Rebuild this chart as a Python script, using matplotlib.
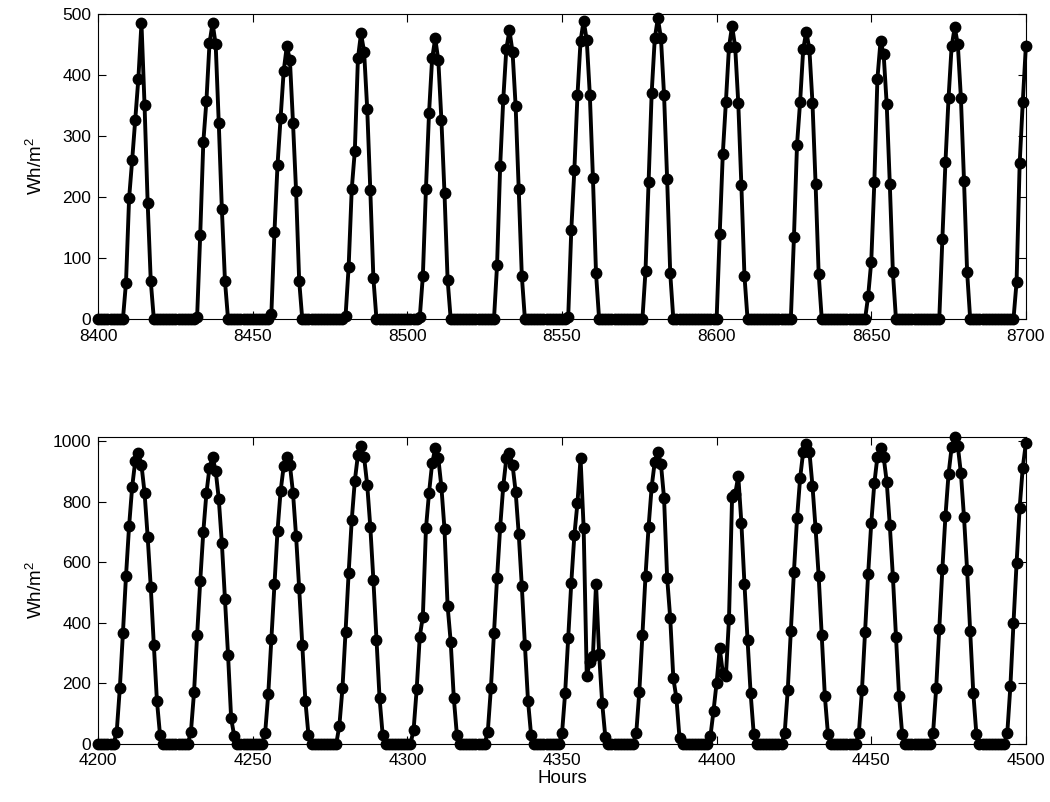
import numpy as np
import matplotlib
matplotlib.use("Agg")
import matplotlib.pyplot as plt

plt.rcParams['font.family'] = ['Liberation Sans', 'DejaVu Sans']
plt.rcParams['mathtext.default'] = 'regular'

# Heures (axe x) des deux périodes
hours_top = np.arange(8400, 8701)
hours_bottom = np.arange(4200, 4501)

# Rayonnement horaire, période d'hiver (Wh/m2), une ligne par jour
values_top = [
    0, 0, 0, 0, 0, 0, 0, 0, 0, 60, 198, 261, 327, 394, 485, 350, 191, 63, 0, 0, 0, 0, 0, 0,
    0, 0, 0, 0, 0, 0, 0, 0, 4, 138, 290, 357, 452, 485, 450, 321, 180, 63, 0, 0, 0, 0, 0, 0,
    0, 0, 0, 0, 0, 0, 0, 0, 8, 142, 253, 329, 407, 447, 425, 322, 210, 63, 0, 0, 0, 0, 0, 0,
    0, 0, 0, 0, 0, 0, 0, 0, 5, 86, 213, 276, 427, 468, 438, 345, 212, 67, 0, 0, 0, 0, 0, 0,
    0, 0, 0, 0, 0, 0, 0, 0, 3, 71, 214, 338, 427, 460, 424, 326, 206, 65, 0, 0, 0, 0, 0, 0,
    0, 0, 0, 0, 0, 0, 0, 0, 0, 89, 251, 360, 443, 473, 438, 349, 213, 71, 0, 0, 0, 0, 0, 0,
    0, 0, 0, 0, 0, 0, 0, 0, 3, 146, 245, 367, 456, 489, 457, 367, 231, 75, 0, 0, 0, 0, 0, 0,
    0, 0, 0, 0, 0, 0, 0, 0, 0, 79, 224, 371, 460, 493, 460, 367, 229, 75, 0, 0, 0, 0, 0, 0,
    0, 0, 0, 0, 0, 0, 0, 0, 0, 140, 271, 356, 446, 480, 446, 354, 220, 71, 0, 0, 0, 0, 0, 0,
    0, 0, 0, 0, 0, 0, 0, 0, 0, 134, 286, 356, 442, 471, 442, 354, 222, 74, 0, 0, 0, 0, 0, 0,
    0, 0, 0, 0, 0, 0, 0, 0, 0, 38, 94, 224, 394, 455, 435, 352, 222, 77, 0, 0, 0, 0, 0, 0,
    0, 0, 0, 0, 0, 0, 0, 0, 0, 131, 257, 362, 447, 478, 450, 362, 227, 78, 0, 0, 0, 0, 0, 0,
    0, 0, 0, 0, 0, 0, 0, 0, 0, 61, 255, 355, 447,
]

# Rayonnement horaire, période d'été (Wh/m2)
values_bottom = [
    0, 0, 0, 0, 0, 0, 40, 183, 365, 554, 719, 849, 935, 959, 921, 829, 684, 519, 326, 142, 29, 0, 0, 0,
    0, 0, 0, 0, 0, 0, 40, 170, 359, 537, 700, 827, 912, 946, 902, 808, 662, 477, 293, 84, 25, 0, 0, 0,
    0, 0, 0, 0, 0, 0, 36, 164, 345, 528, 704, 835, 917, 946, 921, 829, 686, 513, 326, 142, 29, 0, 0, 0,
    0, 0, 0, 0, 0, 0, 60, 183, 370, 565, 739, 869, 954, 983, 946, 855, 717, 541, 343, 150, 29, 0, 0, 0,
    0, 0, 0, 0, 0, 0, 45, 180, 354, 420, 711, 829, 926, 976, 943, 847, 708, 455, 337, 152, 29, 0, 0, 0,
    0, 0, 0, 0, 0, 0, 40, 183, 365, 548, 715, 851, 943, 961, 921, 833, 693, 521, 326, 142, 29, 0, 0, 0,
    0, 0, 0, 0, 0, 0, 34, 166, 348, 532, 689, 796, 943, 711, 224, 270, 290, 528, 296, 133, 23, 0, 0, 0,
    0, 0, 0, 0, 0, 0, 34, 172, 359, 554, 717, 849, 932, 965, 923, 811, 548, 414, 216, 150, 18, 0, 0, 0,
    0, 0, 0, 0, 0, 0, 25, 109, 202, 315, 235, 224, 413, 815, 825, 884, 730, 528, 343, 166, 32, 0, 0, 0,
    0, 0, 0, 0, 0, 0, 34, 177, 373, 568, 744, 877, 965, 990, 965, 851, 711, 554, 359, 157, 32, 0, 0, 0,
    0, 0, 0, 0, 0, 0, 36, 177, 370, 561, 728, 860, 948, 976, 948, 866, 722, 552, 354, 157, 32, 0, 0, 0,
    0, 0, 0, 0, 0, 0, 36, 183, 378, 576, 752, 891, 979, 1012, 983, 893, 748, 574, 373, 168, 32, 0, 0, 0,
    0, 0, 0, 0, 0, 0, 36, 190, 398, 596, 780, 912, 992,
]

fig = plt.figure(figsize=(10.5, 8.02), dpi=100)
ax1 = fig.add_axes([0.0935, 0.602, 0.8835, 0.3807])
ax2 = fig.add_axes([0.0935, 0.0727, 0.8835, 0.382])


def trace(ax, x, y, ymax, yticks, xticks):
    ax.plot(x, y, color='black', linewidth=2.8, marker='o', markersize=7.5,
            clip_on=False, zorder=3)
    ax.set_xlim(x[0], x[-1])
    ax.set_ylim(0, ymax)
    ax.set_xticks(xticks)
    ax.set_yticks(yticks)
    ax.tick_params(direction='in', top=True, right=True, length=6,
                   labelsize=12.5, width=0.8)
    ax.tick_params(axis='x', pad=7)
    ax.tick_params(axis='y', pad=5)
    ax.set_ylabel('Wh/m$^2$', fontsize=13.5)
    ax.yaxis.set_label_coords(-0.056, 0.5)
    for s in ax.spines.values():
        s.set_linewidth(0.8)


trace(ax1, hours_top, values_top, 500, [0, 100, 200, 300, 400, 500],
      [8400, 8450, 8500, 8550, 8600, 8650, 8700])
trace(ax2, hours_bottom, values_bottom, 1012, [0, 200, 400, 600, 800, 1000],
      [4200, 4250, 4300, 4350, 4400, 4450, 4500])
ax2.set_xlabel('Hours', fontsize=13.5, labelpad=1)

fig.savefig('out.png', dpi=100)
